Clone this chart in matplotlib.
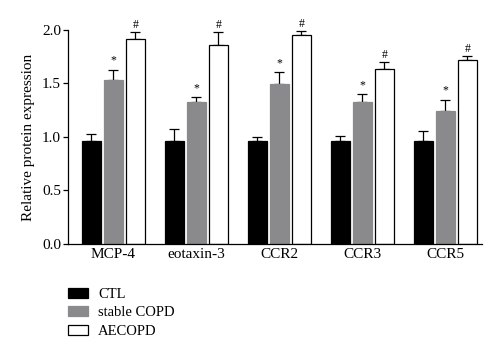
import numpy as np
import matplotlib
matplotlib.use('Agg')
import matplotlib.pyplot as plt
from matplotlib.patches import Patch

plt.rcParams['font.family'] = ['Liberation Serif', 'DejaVu Serif']

categories = ['MCP-4', 'eotaxin-3', 'CCR2', 'CCR3', 'CCR5']
groups = ['CTL', 'stable COPD', 'AECOPD']
ctl = [0.96, 0.96, 0.96, 0.96, 0.96]
ctl_err = [0.065, 0.115, 0.04, 0.045, 0.10]
stable = [1.53, 1.33, 1.495, 1.33, 1.243]
stable_err = [0.10, 0.04, 0.11, 0.07, 0.103]
aecopd = [1.92, 1.86, 1.956, 1.64, 1.72]
aecopd_err = [0.06, 0.12, 0.034, 0.06, 0.037]
stable_marks = ['*'] * 5
aecopd_marks = ['#'] * 5

fig = plt.figure(figsize=(5.0, 3.53), dpi=100)
ax = fig.add_axes([0.136, 0.309, 0.828, 0.606])

x = np.arange(len(categories))
w = 0.229
off = 0.265
colors = ['#000000', '#8a8a8c', '#ffffff']
edges = ['#000000', '#8a8a8c', '#000000']
series = [(ctl, ctl_err), (stable, stable_err), (aecopd, aecopd_err)]

for k, (vals, errs) in enumerate(series):
    pos = x + (k - 1) * off
    ax.bar(pos, vals, w, color=colors[k], edgecolor=edges[k], linewidth=0.9, zorder=2)
    ax.errorbar(pos, vals, yerr=[np.zeros(len(vals)), errs], fmt='none',
                ecolor='black', elinewidth=0.9, capsize=3.3, capthick=0.9, zorder=1)

for i in range(len(categories)):
    ax.text(x[i], stable[i] + stable_err[i] + 0.03, stable_marks[i],
            ha='center', va='bottom', fontsize=8.5)
    ax.text(x[i] + off, aecopd[i] + aecopd_err[i] + 0.01, aecopd_marks[i],
            ha='center', va='bottom', fontsize=8.5)

ax.set_xlim(-0.548, 4.44)
ax.set_ylim(0, 2.0)
ax.set_yticks([0.0, 0.5, 1.0, 1.5, 2.0])
ax.set_yticklabels(['0.0', '0.5', '1.0', '1.5', '2.0'])
ax.set_xticks(x)
ax.set_xticklabels(categories)
ax.tick_params(axis='x', length=0, labelsize=11, pad=3)
ax.tick_params(axis='y', length=3.6, width=0.9, labelsize=11, pad=1.5)
ax.set_ylabel('Relative protein expression', fontsize=11, labelpad=5)
for s in ['top', 'right']:
    ax.spines[s].set_visible(False)
for s in ['left', 'bottom']:
    ax.spines[s].set_linewidth(0.9)

handles = [Patch(facecolor=colors[k], edgecolor=edges[k], linewidth=0.9) for k in range(3)]
fig.legend(handles, groups, loc='upper left', bbox_to_anchor=(0.136, 0.185),
           frameon=False, fontsize=10.5, handlelength=1.37, handleheight=0.7,
           labelspacing=0.36, handletextpad=0.68, borderpad=0, borderaxespad=0)

fig.savefig('out.png', dpi=100)
